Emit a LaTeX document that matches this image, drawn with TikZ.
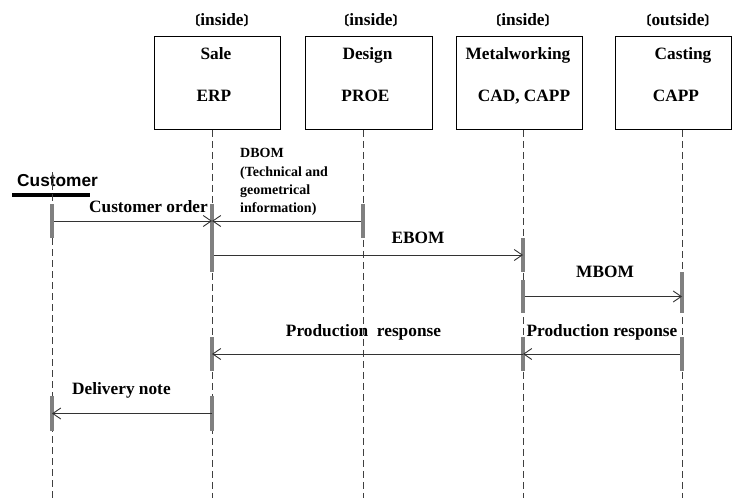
\documentclass[tikz,border=0pt]{standalone}
\usepackage{fontspec}
\setmainfont{Liberation Serif}
\newfontfamily\arialfont{Liberation Sans}
\newfontfamily\cjk{Noto Sans CJK SC}
\usetikzlibrary{arrows.meta}
\begin{document}
\begin{tikzpicture}[x=1pt,y=-1pt,
  box/.style={draw=black,line width=0.9pt,inner sep=0pt,anchor=north west},
  life/.style={draw=black!75,line width=0.9pt,dash pattern=on 7pt off 4pt},
  bar/.style={fill=black!50,draw=none,inner sep=0pt,minimum width=4.5pt},
  msg/.style={draw=black!80,line width=0.9pt,-{Straight Barb[length=8pt,width=11pt,line width=0.9pt]}},
  lbl/.style={font=\bfseries\fontsize{17.3}{20}\selectfont,inner sep=0pt},
  small/.style={font=\bfseries\fontsize{14}{16}\selectfont,inner sep=0pt,anchor=base west},
  head/.style={font=\bfseries\fontsize{17.3}{20}\selectfont,inner sep=0pt,anchor=base}
]
\useasboundingbox (0,0) rectangle (732,498);
\fill[white] (0,0) rectangle (732,498);

% boxes
\node[box,minimum width=126pt,minimum height=93pt] (sale) at (154,36) {};
\node[box,minimum width=127pt,minimum height=93pt] (design) at (305,36) {};
\node[box,minimum width=126pt,minimum height=93pt] (metal) at (456,36) {};
\node[box,minimum width=116pt,minimum height=93pt] (cast) at (615,36) {};

% stereotype labels
\node[head] (in1) at (222,25) {{\cjk\fontsize{13}{15}\selectfont 〔}inside{\cjk\fontsize{13}{15}\selectfont 〕}};
\node[head] (in2) at (371,25) {{\cjk\fontsize{13}{15}\selectfont 〔}inside{\cjk\fontsize{13}{15}\selectfont 〕}};
\node[head] (in3) at (523,25) {{\cjk\fontsize{13}{15}\selectfont 〔}inside{\cjk\fontsize{13}{15}\selectfont 〕}};
\node[head] (out4) at (678,25) {{\cjk\fontsize{13}{15}\selectfont 〔}outside{\cjk\fontsize{13}{15}\selectfont 〕}};

% box texts
\node[head] (t1a) at (216,59.5) {Sale};
\node[head] (t1b) at (214,101) {ERP};
\node[head] (t2a) at (367.5,59.5) {Design};
\node[head] (t2b) at (365.5,101) {PROE};
\node[head] (t3a) at (518,59.5) {Metalworking};
\node[head] (t3b) at (524,101) {CAD, CAPP};
\node[head] (t4a) at (683,59.5) {Casting};
\node[head] (t4b) at (676,101) {CAPP};

% customer
\node[font=\arialfont\bfseries\fontsize{17.3}{20}\selectfont,inner sep=0pt,anchor=base west] (custlbl) at (17,186) {Customer};
\coordinate (custtop) at (52,172);
\coordinate (custbot) at (52,498);
\draw[line width=4pt] (12,195) -- (90,195);

% lifelines
\coordinate (salebot) at (212,498);
\coordinate (designbot) at (363,498);
\coordinate (metalbot) at (523,498);
\coordinate (castbot) at (682,498);
\draw[life] (custtop) -- (custbot);
\draw[life] (sale.south -| salebot) -- (salebot);
\draw[life] (design.south -| designbot) -- (designbot);
\draw[life] (metal.south -| metalbot) -- (metalbot);
\draw[life] (cast.south -| castbot) -- (castbot);

% activation bars
\node[bar,minimum height=34pt] (cust1) at (52,221) {};
\node[bar,minimum height=68pt] (sale1) at (212,238) {};
\node[bar,minimum height=34pt] (design1) at (363,221) {};
\node[bar,minimum height=34pt] (metal1) at (523,255) {};
\node[bar,minimum height=33pt] (metal2) at (523,296.5) {};
\node[bar,minimum height=41pt] (cast1) at (682,292.5) {};
\node[bar,minimum height=34pt] (sale2) at (212,354) {};
\node[bar,minimum height=34pt] (metal3) at (523,354) {};
\node[bar,minimum height=34pt] (cast2) at (682,354) {};
\node[bar,minimum height=35pt] (sale3) at (212,413.5) {};
\node[bar,minimum height=35pt] (cust2) at (52,413.5) {};

% messages
\draw[msg] (cust1.east) -- (cust1.east -| sale1.center);
\draw[msg] (design1.west) -- (design1.west -| sale1.center);
\draw[msg] (metal1.center -| sale1.east) -- (metal1.center);
\draw[msg] (metal2.east) -- (metal2.center -| cast1.center);
\draw[msg] (cast2.west) -- (cast2.center -| metal3.center);
\draw[msg] (metal3.center) -- (metal3.center -| sale2.center);
\draw[msg] (sale3.center) -- (sale3.center -| cust2.center);

% labels
\node[lbl,anchor=base east] (l1) at (208,212) {Customer order};
\node[small] (d1) at (240,157) {DBOM};
\node[small] (d2) at (240,176.5) {(Technical and};
\node[small] (d3) at (240,194.5) {geometrical};
\node[small] (d4) at (240,212) {information)};
\node[lbl,anchor=base] (l2) at (418,243) {EBOM};
\node[lbl,anchor=base] (l3) at (605,277) {MBOM};
\node[lbl,anchor=base] (l4) at (602,336.5) {Production response};
\node[lbl,anchor=base] (l5) at (363.5,336.5) {Production\ \ response};
\node[lbl,anchor=base west] (l6) at (72,394) {Delivery note};
\end{tikzpicture}
\end{document}
